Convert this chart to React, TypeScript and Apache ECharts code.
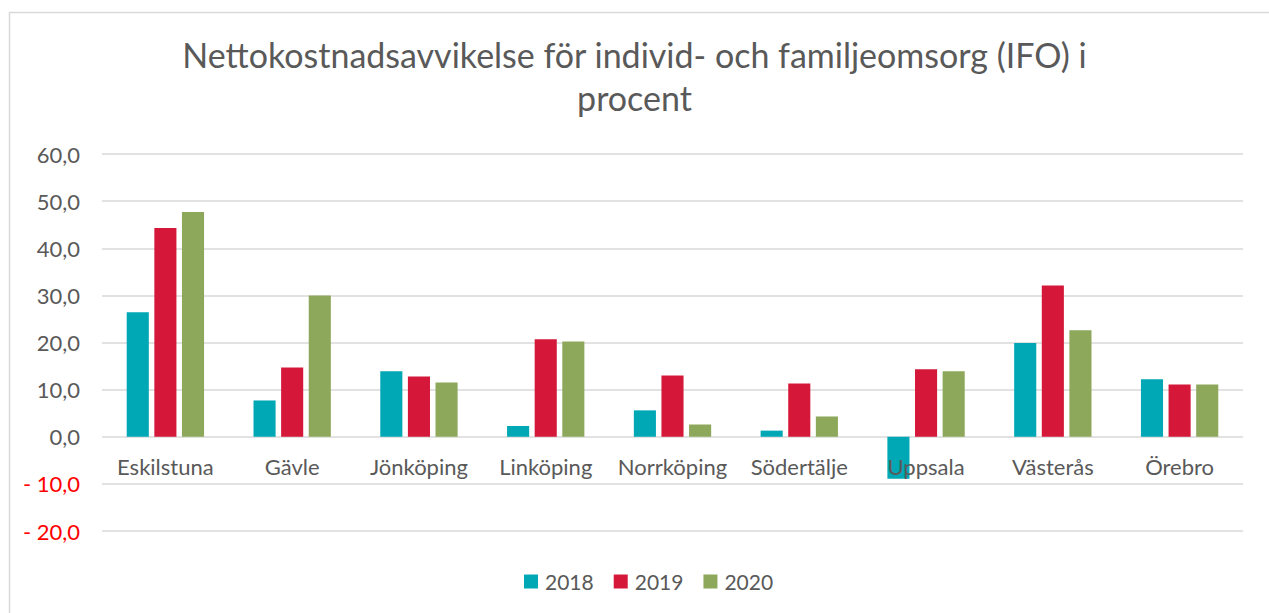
import React, { useEffect, useRef } from "react";
import * as echarts from "echarts";

const categories = ["Eskilstuna", "Gävle", "Jönköping", "Linköping", "Norrköping", "Södertälje", "Uppsala", "Västerås", "Örebro"];
const seriesNames = ["2018", "2019", "2020"];
const values2018 = [26.4, 7.7, 13.9, 2.3, 5.6, 1.3, -8.9, 19.9, 12.2];
const values2019 = [44.3, 14.7, 12.8, 20.7, 13.0, 11.3, 14.3, 32.1, 11.1];
const values2020 = [47.7, 30.0, 11.5, 20.2, 2.6, 4.3, 13.9, 22.6, 11.1];
const colors = ["#00A8B6", "#D5183A", "#8DA85A"];
const titleText = "Nettokostnadsavvikelse för individ- och familjeomsorg (IFO) i\nprocent";
const yMin = -20;
const yMax = 60;

const FONT = "Lato";
const TEXT = "#595959";

function fmt(v: number): string {
  const s = Math.abs(v).toFixed(1).replace(".", ",");
  return v < 0 ? "- " + s : s;
}

export default function App() {
  const ref = useRef<HTMLDivElement>(null);
  useEffect(() => {
    if (!ref.current) return;
    const chart = echarts.init(ref.current, undefined, { renderer: "svg" });
    const data = [values2018, values2019, values2020];
    const gridTop = 154;
    const gridBottom = 82;
    const plotH = 613 - gridTop - gridBottom;
    // distance from bottom of plot to the zero line
    const zeroOffset = (plotH * (0 - yMin)) / (yMax - yMin);
    chart.setOption({
      animation: false,
      backgroundColor: "#ffffff",
      textStyle: { fontFamily: FONT },
      graphic: [
        {
          type: "rect",
          left: 7,
          top: 10,
          shape: { width: 1300, height: 700 },
          style: { fill: "none", stroke: "#d9d9d9", lineWidth: 1.5 },
          silent: true,
        },
      ],
      title: {
        text: titleText,
        left: "center",
        top: 28,
        textStyle: {
          fontFamily: FONT,
          fontSize: 34,
          fontWeight: "normal",
          color: TEXT,
          lineHeight: 43,
        },
      },
      legend: {
        data: seriesNames,
        bottom: 16,
        left: 519,
        icon: "rect",
        itemWidth: 14,
        itemHeight: 14,
        itemGap: 20,
        textStyle: { fontFamily: FONT, fontSize: 21, color: TEXT, padding: [0, 0, 0, 2] },
      },
      grid: { left: 102, right: 26, top: gridTop, bottom: gridBottom, containLabel: false },
      xAxis: {
        type: "category",
        data: categories,
        z: 5,
        offset: -zeroOffset,
        axisLine: { show: false, onZero: false },
        axisTick: { show: false },
        axisLabel: { fontFamily: FONT, fontSize: 22, color: TEXT, margin: 19, interval: 0 },
      },
      yAxis: {
        type: "value",
        min: yMin,
        max: yMax,
        interval: 10,
        axisLine: { show: false },
        axisTick: { show: false },
        splitLine: { lineStyle: { color: "#d9d9d9", width: 1.5 } },
        axisLabel: {
          fontFamily: FONT,
          fontSize: 22,
          margin: 22,
          formatter: (v: number) => fmt(v),
          color: (v: any) => (Number(v) < 0 ? "#ff0000" : TEXT),
        },
      },
      series: seriesNames.map((name, i) => ({
        name,
        type: "bar",
        data: data[i],
        barGap: "25%",
        barCategoryGap: "39%",
        itemStyle: { color: colors[i] },
      })),
    });
    return () => chart.dispose();
  }, []);
  return (
    <div
      ref={ref}
      style={{ position: "fixed", left: 0, top: 0, width: 1269, height: 613 }}
    />
  );
}
